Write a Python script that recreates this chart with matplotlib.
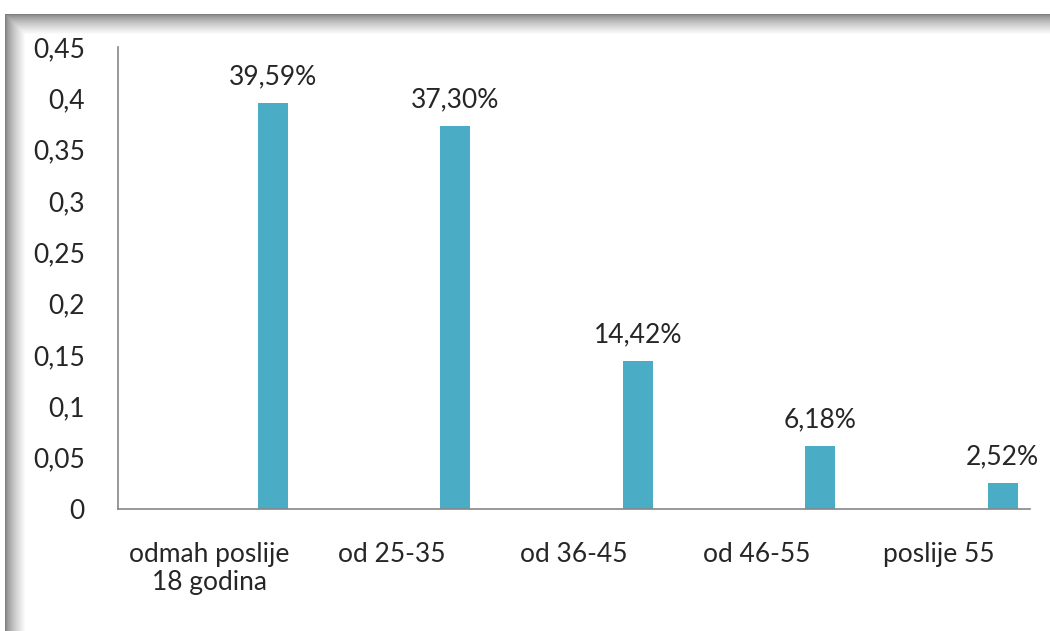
import numpy as np
import matplotlib
matplotlib.use("Agg")
import matplotlib.pyplot as plt

# data
categories = ["odmah poslije\n18 godina", "od 25-35", "od 36-45", "od 46-55", "poslije 55"]
values = [0.3959, 0.3730, 0.1442, 0.0618, 0.0252]
value_labels = ["39,59%", "37,30%", "14,42%", "6,18%", "2,52%"]
yticks = [0, 0.05, 0.1, 0.15, 0.2, 0.25, 0.3, 0.35, 0.4, 0.45]
ytick_labels = ["0", "0,05", "0,1", "0,15", "0,2", "0,25", "0,3", "0,35", "0,4", "0,45"]

BAR_COLOR = "#4BACC6"
TEXT_COLOR = "#262626"
W, H = 1050, 631
FS = 19

plt.rcParams["font.family"] = ["Lato", "DejaVu Sans"]

fig = plt.figure(figsize=(W / 100, H / 100), dpi=100)

# background with the shadowed frame (top and left edges)
bg = fig.add_axes([0, 0, 1, 1])
yy, xx = np.mgrid[0:H, 0:W]
top = np.clip((yy - 14) / 20.0, 0, 1)
left = np.clip((xx - 5) / 20.0, 0, 1)
shade = np.minimum(top, left)
shade = 0.5 + 0.5 * shade ** 0.7
shade[yy < 14] = 1.0
shade[xx < 5] = 1.0
bg.imshow(np.dstack([shade, shade, shade]), aspect="auto", extent=[0, W, H, 0])
bg.set_xlim(0, W)
bg.set_ylim(H, 0)
bg.axis("off")

# main plot area
ax = fig.add_axes([118 / W, 1 - 509 / H, (1030 - 118) / W, (509 - 47) / H])
ax.set_facecolor("none")

x = np.arange(len(categories))
offset = 0.35
bar_w = 0.165
ax.bar(x + offset, values, width=bar_w, color=BAR_COLOR)

for xi, v, lab in zip(x, values, value_labels):
    ax.text(xi + offset, v + 0.013, lab, ha="center", va="bottom",
            fontsize=FS, color=TEXT_COLOR)

ax.set_xlim(-0.5, len(categories) - 0.5)
ax.set_ylim(0, 0.45)
ax.set_yticks(yticks)
ax.set_yticklabels(ytick_labels, fontsize=FS, color=TEXT_COLOR)
ax.set_xticks(x)
ax.set_xticklabels(categories, fontsize=FS, color=TEXT_COLOR, linespacing=1.15)
ax.tick_params(axis="both", length=0)
ax.tick_params(axis="y", pad=24)
ax.tick_params(axis="x", pad=24)

for side in ["top", "right"]:
    ax.spines[side].set_visible(False)
for side in ["left", "bottom"]:
    ax.spines[side].set_color("#868686")
    ax.spines[side].set_linewidth(1.2)

fig.savefig("out.png", dpi=100)
